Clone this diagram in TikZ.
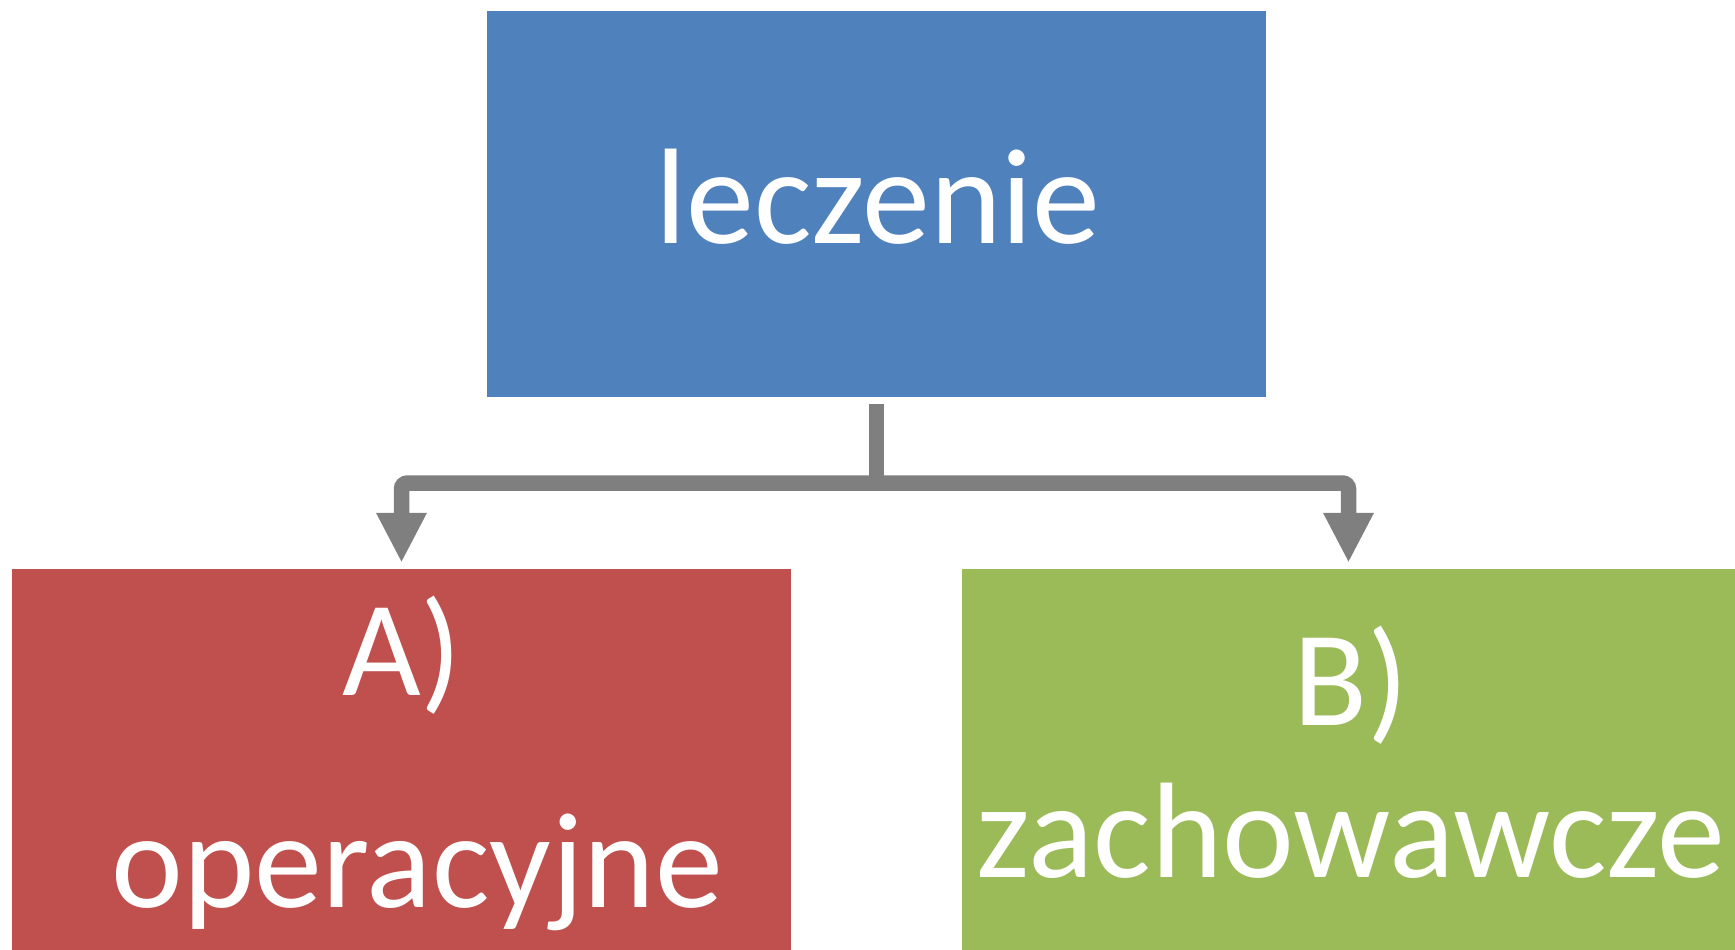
\documentclass[tikz,border=0pt]{standalone}
\usepackage{fontspec}
\setmainfont{Carlito}
\usetikzlibrary{arrows.meta}
\definecolor{boxblue}{HTML}{4F81BD}
\definecolor{boxred}{HTML}{C0504D}
\definecolor{boxgreen}{HTML}{9BBB59}
\definecolor{conngray}{HTML}{7F7F7F}
\tikzset{
  box/.style={draw=none, inner sep=0pt, rectangle},
  lbl/.style={text=white, inner sep=0pt, anchor=base, font=\fontsize{136}{150}\selectfont},
  conn/.style={draw=conngray, line width=15.5pt},
  tip/.tip={Triangle[width=47pt,length=50pt]},
  branch/.style={conn, rounded corners=6pt, tip-tip, shorten >=6pt, shorten <=6pt},
}
\begin{document}
\begin{tikzpicture}[x=1pt,y=-1pt]
\useasboundingbox (0,0) rectangle (1735,950);
\node[box, fill=boxblue, minimum width=779pt, minimum height=386pt] (top) at (876.5,204) {};
\node[box, fill=boxred, minimum width=779pt, minimum height=381pt] (A) at (401.5,759.5) {};
\node[box, fill=boxgreen, minimum width=773pt, minimum height=381pt] (B) at (1348.5,759.5) {};
\node[lbl] (tl) at (878,243) {leczenie};
\node[lbl] (al1) at (402,695) {A)};
\node[lbl] (al2) at (417,907) {operacyjne};
\node[lbl] (bl1) at (1351,725) {B)};
\node[lbl] (bl2) at (1351,877) {zachowawcze};
\coordinate (hub) at (876.5,483);
\draw[conn, shorten <=7pt] (top.south) -- (hub);
\draw[branch] (A.north) |- (hub) -| (B.north);
\end{tikzpicture}
\end{document}
